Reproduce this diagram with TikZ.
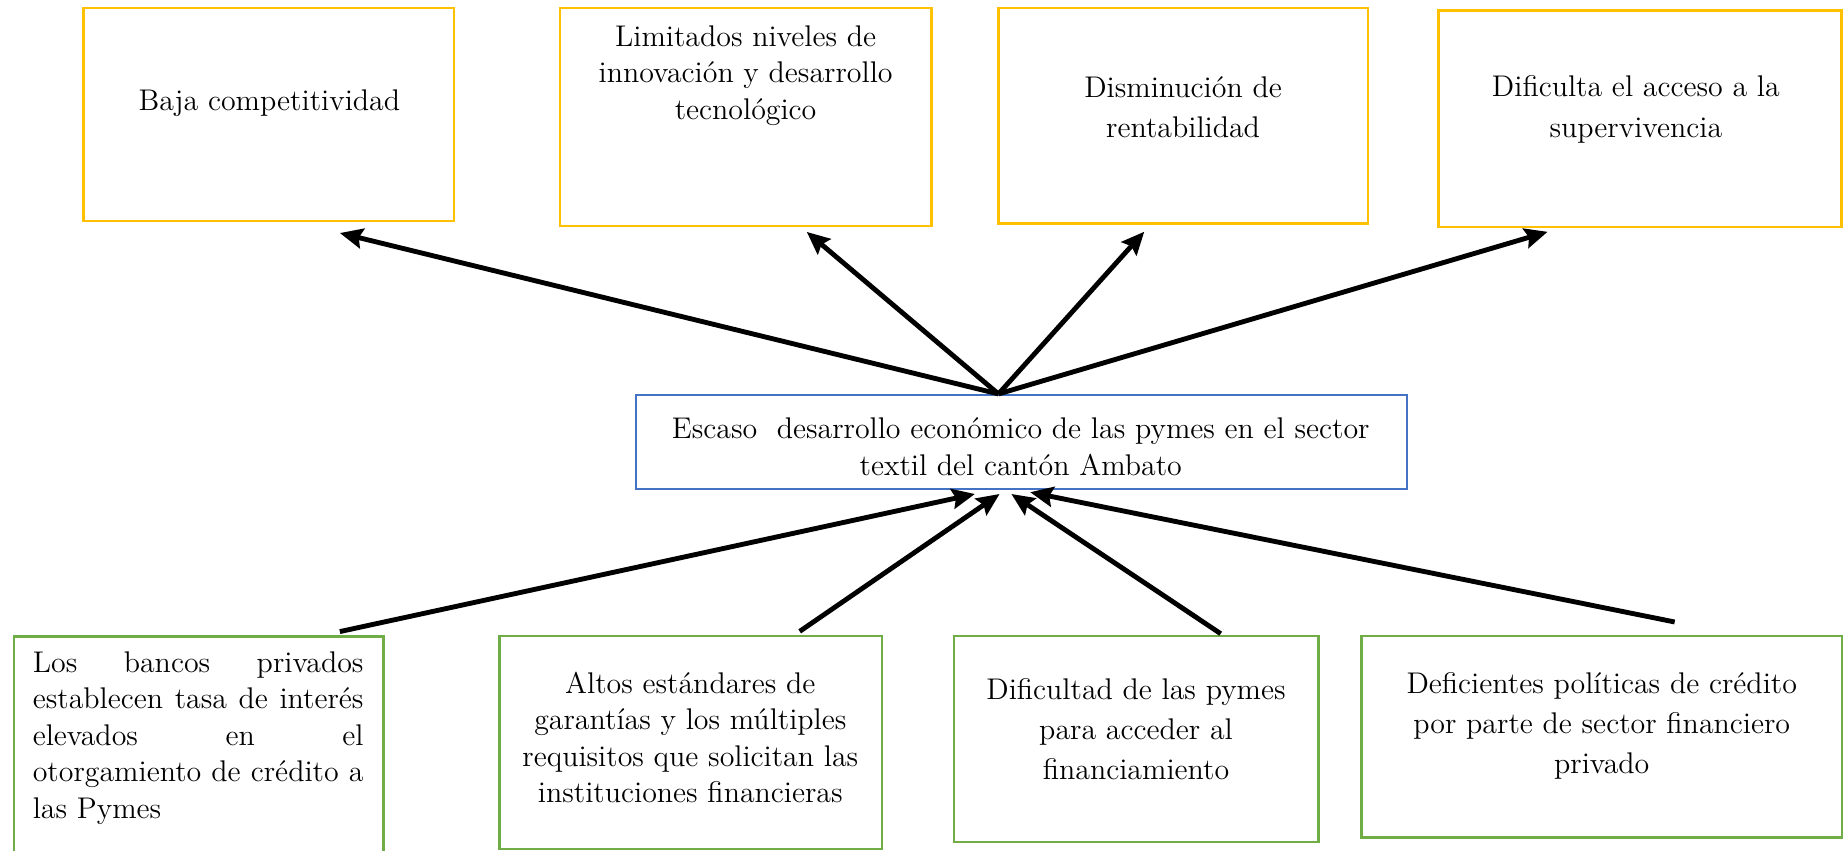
\documentclass[tikz,border=0pt]{standalone}
\usepackage{fontspec}
\usetikzlibrary{arrows.meta}
\definecolor{efecto}{HTML}{FFC000}
\definecolor{problema}{HTML}{4472C4}
\definecolor{causa}{HTML}{70AD47}
\begin{document}
\begin{tikzpicture}[x=0.017cm, y=-0.017cm,
    >={Stealth[length=3.3mm, width=2.9mm, inset=0.5mm]},
    caja/.style={draw, line width=1pt, inner sep=0pt},
    efectobox/.style={caja, draw=efecto},
    causabox/.style={caja, draw=causa},
    texto/.style={align=center, inner sep=0pt, font=\fontsize{12.3}{15}\selectfont},
    textoalto/.style={texto, font=\fontsize{12.3}{16.5}\selectfont},
    flecha/.style={->, line width=2pt}]
  \useasboundingbox (0,0) rectangle (1568,723.6);

  % efectos
  \node[efectobox, minimum width=53.6mm, minimum height=30.8mm] (e1) at (228.5,97.5) {};
  \node[efectobox, minimum width=53.7mm, minimum height=31.5mm] (e2) at (634,99.5) {};
  \node[efectobox, minimum width=53.4mm, minimum height=31.1mm] (e3) at (1006,98.5) {};
  \node[efectobox, minimum width=58.3mm, minimum height=31.3mm] (e4) at (1394.5,101) {};
  \node[texto] (te1) at (229,88) {Baja competitividad};
  \node[texto] (te2) at (634,64) {Limitados niveles de\\innovación y desarrollo\\tecnológico};
  \node[textoalto] (te3) at (1006,91) {Disminución de\\rentabilidad};
  \node[textoalto] (te4) at (1391,93) {Dificulta el acceso a la\\supervivencia};

  % problema central
  \node[caja, draw=problema, minimum width=111.4mm, minimum height=13.6mm] (m) at (868.5,376) {};
  \node[texto] (tm) at (868,380) {Escaso\ \ desarrollo económico de las pymes en el sector\\textil del cantón Ambato};
  \coordinate (hub) at ([shift={(-19.5,0)}]m.north);

  % causas
  \node[causabox, minimum width=53.4mm, minimum height=37.2mm] (b1) at (169,650.5) {};
  \node[causabox, minimum width=55.3mm, minimum height=30.8mm] (b2) at (587.5,631.5) {};
  \node[causabox, minimum width=52.7mm, minimum height=29.8mm] (b3) at (966,628.5) {};
  \node[causabox, minimum width=69.4mm, minimum height=29.1mm] (b4) at (1362,626.5) {};
  \node[texto, align=justify, text width=47.8mm] (tb1) at (168.5,627.5)
    {Los bancos privados\linebreak establecen tasa de interés\linebreak elevados en el\linebreak otorgamiento de crédito a\linebreak las Pymes};
  \node[texto] (tb2) at (587,627) {Altos estándares de\\garantías y los múltiples\\requisitos que solicitan las\\instituciones financieras};
  \node[textoalto] (tb3) at (966,620) {Dificultad de las pymes\\para acceder al\\financiamiento};
  \node[textoalto] (tb4) at (1362,617.5) {Deficientes políticas de crédito\\por parte de sector financiero\\privado};

  % flechas hacia los efectos
  \draw[flecha] (hub) -- ([shift={(60.5,9)}]e1.south);
  \draw[flecha] (hub) -- ([shift={(52,4)}]e2.south);
  \draw[flecha] (hub) -- ([shift={(-33,6)}]e3.south);
  \draw[flecha] (hub) -- ([shift={(-78.5,3)}]e4.south);

  % flechas desde las causas
  \draw[flecha] ([shift={(120,-3)}]b1.north) -- ([shift={(-39.5,3)}]m.south);
  \draw[flecha] ([shift={(92.5,-3)}]b2.north) -- ([shift={(-18.5,3)}]m.south);
  \draw[flecha] ([shift={(72,-1)}]b3.north) -- ([shift={(-8.5,3)}]m.south);
  \draw[flecha] ([shift={(62,-11)}]b4.north) -- ([shift={(7.5,1.5)}]m.south);
\end{tikzpicture}
\end{document}
